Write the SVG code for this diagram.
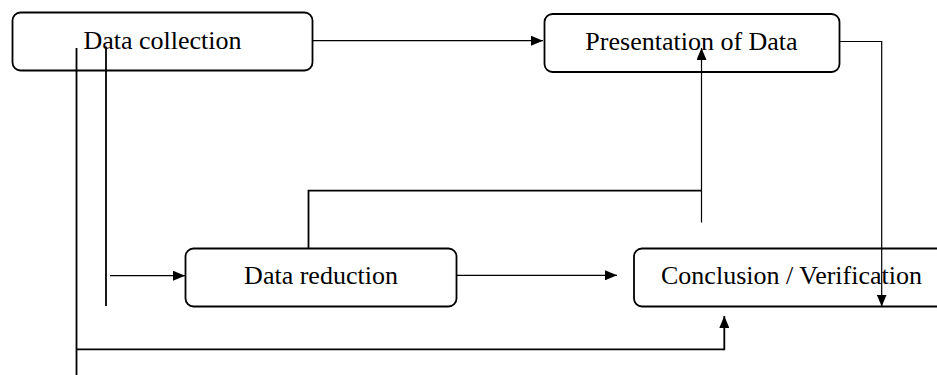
<svg xmlns="http://www.w3.org/2000/svg" width="937" height="375" viewBox="0 0 937 375">
<defs>
<style>
.box{fill:#fff;stroke:#000;stroke-width:1.8}
.lbl{font-family:"Liberation Serif","Times New Roman",serif;font-size:26px;fill:#000;text-anchor:middle}
.thin{fill:none;stroke:#000;stroke-width:1.2}
.thick{fill:none;stroke:#000;stroke-width:1.8}
</style>
<marker id="ah" markerUnits="userSpaceOnUse" markerWidth="13" markerHeight="10" refX="12" refY="5" orient="auto">
<path d="M0,0 L12,5 L0,10 Z" fill="#000"/>
</marker>
</defs>
<rect width="937" height="375" fill="#fff"/>
<g id="n-collection">
<rect class="box" x="12.5" y="12.5" width="300" height="58" rx="8"/>
<text class="lbl" x="162.5" y="48.5">Data collection</text>
</g>
<g id="n-presentation">
<rect class="box" x="544.5" y="14" width="295" height="58" rx="8"/>
<text class="lbl" x="691.5" y="50">Presentation of Data</text>
</g>
<g id="n-reduction">
<rect class="box" x="185.5" y="248.5" width="271" height="58" rx="8"/>
<text class="lbl" x="321" y="284">Data reduction</text>
</g>
<g id="n-conclusion">
<rect class="box" x="634" y="248.5" width="320" height="58" rx="8"/>
<text class="lbl" x="791.5" y="284">Conclusion / Verification</text>
</g>
<g id="connectors">
<line class="thin" x1="313" y1="40.7" x2="543" y2="40.7" marker-end="url(#ah)"/>
<polyline class="thin" points="839.5,41.5 881.7,41.5 881.7,306.5" marker-end="url(#ah)"/>
<polyline class="thick" points="308.5,248.5 308.5,190.7 701.5,190.7"/>
<line class="thin" x1="701.5" y1="222.5" x2="701.5" y2="48" marker-end="url(#ah)"/>
<line class="thick" x1="106" y1="46.5" x2="106" y2="306"/>
<line class="thin" x1="110" y1="275.7" x2="185" y2="275.7" marker-end="url(#ah)"/>
<line class="thin" x1="457" y1="275.3" x2="617" y2="275.3" marker-end="url(#ah)"/>
<line class="thick" x1="76.5" y1="48" x2="76.5" y2="375"/>
<polyline class="thick" points="76.5,349.3 724.3,349.3 724.3,316" marker-end="url(#ah)"/>
</g>
</svg>
